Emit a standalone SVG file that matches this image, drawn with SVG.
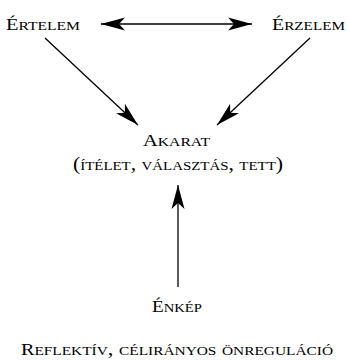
<svg xmlns="http://www.w3.org/2000/svg" width="349" height="361" viewBox="0 0 349 361">
  <defs>
    <style>
      .lbl { font-family: "Liberation Serif", "DejaVu Serif", serif; font-size: 19px; font-variant: small-caps; fill: #000; }
      .cap { font-size: 17px; }
      .conn { stroke: #000; stroke-width: 1.3; fill: none; }
    </style>
    <marker id="ah" markerUnits="userSpaceOnUse" markerWidth="30" markerHeight="20" viewBox="-26 -10 30 20" refX="0" refY="0" orient="auto-start-reverse">
      <path d="M0,0 L-24,-6.5 L-18,0 L-24,6.5 Z" fill="#000"/>
    </marker>
  </defs>
  <rect width="349" height="361" fill="#fff"/>
  <g id="connectors">
    <line class="conn" x1="101" y1="24" x2="252" y2="24" marker-start="url(#ah)" marker-end="url(#ah)"/>
    <line class="conn" x1="45" y1="38" x2="138" y2="125" marker-end="url(#ah)"/>
    <line class="conn" x1="310" y1="38" x2="217" y2="125" marker-end="url(#ah)"/>
    <line class="conn" x1="178" y1="287" x2="178" y2="185" marker-end="url(#ah)"/>
  </g>
  <g id="ertelem">
    <text class="lbl" x="6" y="30" textLength="74" lengthAdjust="spacingAndGlyphs"><tspan class="cap">É</tspan>rtelem</text>
  </g>
  <g id="erzelem">
    <text class="lbl" x="272" y="30" textLength="73" lengthAdjust="spacingAndGlyphs"><tspan class="cap">É</tspan>rzelem</text>
  </g>
  <g id="akarat">
    <text class="lbl" x="176.5" y="146" text-anchor="middle" textLength="67" lengthAdjust="spacingAndGlyphs"><tspan class="cap">A</tspan>karat</text>
    <text class="lbl" x="178" y="170" text-anchor="middle" textLength="210" lengthAdjust="spacingAndGlyphs">(ítélet, választás, tett)</text>
  </g>
  <g id="enkep">
    <text class="lbl" x="177" y="312" text-anchor="middle" textLength="50" lengthAdjust="spacingAndGlyphs"><tspan class="cap">É</tspan>nkép</text>
  </g>
  <g id="caption">
    <text class="lbl" x="177" y="355" text-anchor="middle" textLength="312" lengthAdjust="spacingAndGlyphs"><tspan class="cap">R</tspan>eflektív, célirányos önreguláció</text>
  </g>
</svg>
